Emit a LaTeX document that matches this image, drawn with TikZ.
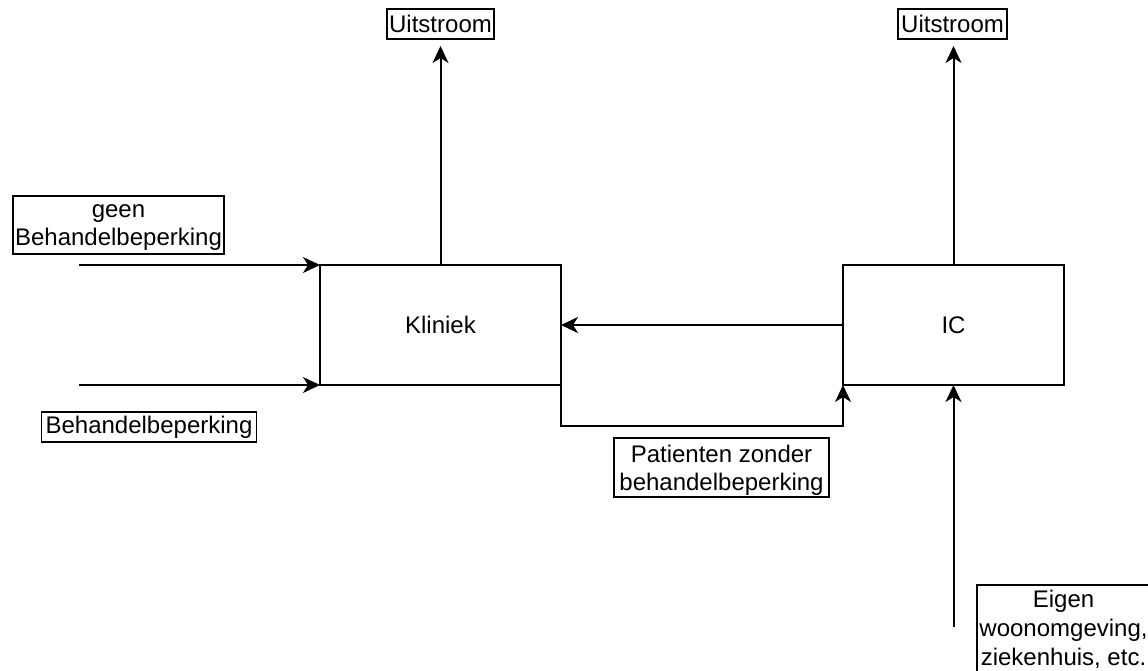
\documentclass[tikz,border=0pt]{standalone}
\usepackage{fontspec}
\setmainfont{Liberation Sans}
\usetikzlibrary{arrows.meta}
\begin{document}
\begin{tikzpicture}[x=1pt,y=-1pt,
  every node/.style={font=\fontsize{24}{28}\selectfont},
  proc/.style={draw, line width=2pt, minimum width=241pt, minimum height=120pt, inner sep=0pt, outer sep=0pt},
  lbl/.style={draw, line width=1.6pt, inner sep=0pt, outer sep=0pt, align=center},
  flow/.style={line width=2pt, -{Stealth[length=17pt,width=16pt,inset=5pt]}}]
\useasboundingbox (0,0) rectangle (1148,670);
\clip (0,0) rectangle (1148,670);
\node[proc] (kliniek) at (440.5,325) {Kliniek};
\node[proc, minimum width=221pt] (ic) at (953.5,325) {IC};
\node[lbl, minimum width=107pt, minimum height=30pt] (u1) at (440.5,24) {Uitstroom};
\node[lbl, minimum width=109pt, minimum height=30pt] (u2) at (952.5,24) {Uitstroom};
\node[lbl, minimum width=211pt, minimum height=58pt, text depth=0pt] (geen) at (118.5,225) {geen\\Behandelbeperking};
\node[lbl, minimum width=215pt, minimum height=30pt] (beh) at (149,427) {Behandelbeperking};
\node[lbl, minimum width=215pt, minimum height=59pt, text depth=0pt] (pat) at (721.5,467.5) {Patienten zonder\\behandelbeperking};
\node[lbl, minimum width=174pt, minimum height=92pt, anchor=north west] (eigen) at (977,585) {};
\node[anchor=north, align=center, inner sep=0pt, font=\fontsize{24}{29}\selectfont] (eigentxt) at (1063.5,590) {Eigen\\woonomgeving,\\ziekenhuis, etc.};
\coordinate (a1) at (79,265);
\coordinate (a2) at (79,385);
\coordinate (e1) at (953.5,627);
\coordinate (t1) at (440.5,46);
\coordinate (t2) at (953.5,46);
\draw[flow] (kliniek.north) -- (t1);
\draw[flow] (ic.north) -- (t2);
\draw[flow] (a1) -- (a1 -| kliniek.west);
\draw[flow] (a2) -- (a2 -| kliniek.west);
\draw[flow] (ic.west) -- (kliniek.east);
\draw[flow] (kliniek.south east) -- ++(0,41) -| (ic.south west);
\draw[flow] (e1) -- (ic.south);
\end{tikzpicture}
\end{document}
